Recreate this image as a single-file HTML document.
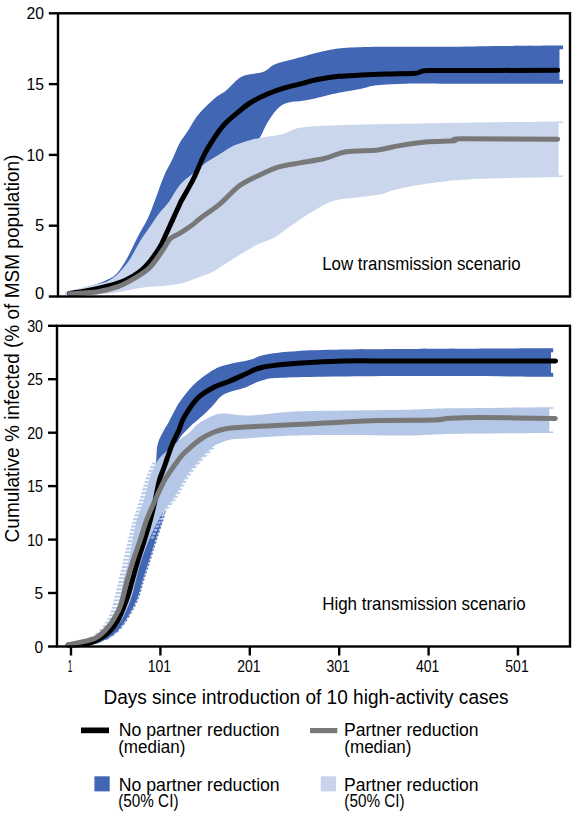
<!DOCTYPE html>
<html><head><meta charset="utf-8"><title>Chart</title>
<style>html,body{margin:0;padding:0;background:#fff;width:576px;height:816px;overflow:hidden}svg{display:block}text{font-family:"Liberation Sans",sans-serif}</style>
</head><body>
<svg width="576" height="816" viewBox="0 0 576 816">
<defs><pattern id="hatchL" width="20" height="3.7" patternUnits="userSpaceOnUse"><rect width="20" height="2" fill="#b4c7e6"/></pattern><pattern id="hatchD" width="20" height="3.7" patternUnits="userSpaceOnUse"><rect y="1.5" width="20" height="2" fill="#4166b3"/></pattern></defs>
<rect width="576" height="816" fill="#fff"/>
<path d="M65.5,293.0 C68.2,292.2 75.5,290.5 82.0,288.5 C88.5,286.5 98.8,283.5 104.6,281.0 C110.4,278.5 113.0,277.3 116.8,273.5 C120.6,269.7 123.7,264.1 127.2,258.0 C130.7,251.9 134.1,243.7 137.6,237.0 C141.1,230.3 145.1,224.2 148.0,218.0 C150.9,211.8 152.5,206.9 155.1,200.0 C157.7,193.1 160.9,183.2 163.8,176.4 C166.7,169.6 169.9,164.5 172.5,159.0 C175.1,153.5 176.8,148.2 179.4,143.4 C182.0,138.6 185.2,134.9 188.1,130.4 C191.0,125.9 193.9,120.4 196.8,116.5 C199.7,112.6 202.2,110.1 205.4,106.9 C208.6,103.7 212.5,100.1 216.0,97.3 C219.5,94.5 222.1,93.8 226.4,90.3 C230.7,86.8 235.9,79.5 242.0,76.5 C248.1,73.5 257.4,74.1 262.9,72.1 C268.4,70.1 269.8,66.5 275.0,64.3 C280.2,62.1 287.3,61.0 294.1,59.1 C300.9,57.2 310.1,54.5 316.0,53.0 C321.9,51.5 323.9,50.8 329.5,49.9 C335.1,49.0 340.9,48.1 349.9,47.6 C358.9,47.1 367.7,46.8 383.7,46.7 C399.7,46.6 426.6,46.9 446.0,46.8 C465.4,46.7 481.1,46.2 500.0,46.0 C518.9,45.8 549.6,45.6 559.5,45.5 L559.5,83.7 C540.6,83.7 471.5,83.7 446.0,83.7 C420.5,83.7 417.8,83.4 406.3,83.7 C394.8,84.0 384.5,84.5 377.0,85.3 C369.5,86.1 367.6,87.5 361.2,88.7 C354.8,90.0 346.1,91.2 338.6,92.8 C331.1,94.4 322.0,96.9 316.0,98.2 C310.0,99.5 307.3,100.1 302.8,100.8 C298.3,101.5 292.9,101.3 288.9,102.5 C284.8,103.7 282.0,104.5 278.5,107.7 C275.0,110.9 271.6,116.0 268.1,121.6 C264.6,127.1 262.4,134.6 257.7,141.0 C253.0,147.4 247.1,150.2 240.0,160.0 C232.9,169.8 224.2,185.8 215.0,200.0 C205.8,214.2 194.2,232.5 185.0,245.0 C175.8,257.5 169.2,268.0 160.0,275.0 C150.8,282.0 140.0,284.2 130.0,287.0 C120.0,289.8 110.8,290.8 100.0,292.0 C89.2,293.2 71.2,294.1 65.5,294.5 Z" fill="#4166b3"/>
<rect x="559" y="45.5" width="4" height="3.8" fill="#4166b3"/><rect x="559" y="79.9" width="4" height="3.8" fill="#4166b3"/>
<path d="M64.3,292.0 C69.9,290.7 90.4,285.8 97.7,284.0 C105.0,282.2 104.5,282.8 108.0,281.0 C111.5,279.2 115.0,276.7 118.5,273.3 C122.0,269.9 126.3,264.4 128.9,260.8 C131.5,257.2 131.8,255.7 134.0,252.0 C136.2,248.3 138.9,243.2 141.8,238.6 C144.7,234.0 148.6,228.8 151.5,224.5 C154.4,220.2 156.5,216.8 159.4,213.0 C162.3,209.2 165.8,206.1 169.2,201.4 C172.6,196.7 176.0,189.4 180.0,184.7 C184.0,180.0 189.1,176.6 193.3,173.0 C197.5,169.4 201.0,166.2 205.4,163.0 C209.8,159.8 215.2,156.9 220.0,154.0 C224.8,151.1 228.8,147.9 233.9,145.6 C239.0,143.3 246.4,141.2 250.6,140.0 C254.8,138.8 253.5,139.2 259.0,138.2 C264.5,137.1 276.6,135.5 283.7,133.7 C290.8,131.9 291.4,129.0 301.8,127.6 C312.2,126.1 318.7,125.8 346.0,125.0 C373.3,124.2 430.4,123.4 465.8,122.8 C501.2,122.2 543.0,121.6 558.5,121.4 L558.5,177.0 C543.9,177.4 492.7,178.1 471.0,179.2 C449.3,180.3 441.0,181.7 428.2,183.5 C415.4,185.3 401.9,188.1 394.1,189.9 C386.3,191.7 387.7,192.9 381.3,194.2 C374.9,195.5 363.5,196.5 355.6,197.6 C347.7,198.7 340.9,198.5 333.8,200.8 C326.6,203.1 319.8,207.2 312.9,211.2 C306.0,215.3 298.5,220.8 292.1,225.1 C285.7,229.4 280.5,234.1 274.7,237.3 C268.9,240.5 261.5,242.6 257.4,244.5 C253.3,246.4 253.4,246.7 250.0,248.7 C246.6,250.7 241.0,253.9 236.8,256.5 C232.6,259.1 228.8,261.7 224.7,264.3 C220.6,266.9 216.8,269.9 212.5,272.1 C208.2,274.3 203.2,275.6 198.6,277.3 C194.0,279.0 189.9,281.1 184.7,282.5 C179.5,283.9 173.2,284.8 167.4,285.5 C161.6,286.2 155.2,286.2 150.0,286.8 C144.8,287.4 143.0,287.7 136.0,288.8 C129.0,289.9 119.6,292.5 108.0,293.5 C96.4,294.5 73.3,294.8 66.4,295.0 Z" fill="#cad6ec"/>
<rect x="558" y="121.4" width="5" height="1.6" fill="#cad6ec"/><rect x="558" y="175.4" width="5" height="1.6" fill="#cad6ec"/>
<path d="M69.5,293.5 C72.5,293.1 80.8,292.1 87.2,290.8 C93.7,289.6 101.8,287.7 108.0,286.0 C114.2,284.3 119.5,282.8 124.8,280.5 C130.0,278.2 135.1,275.2 139.3,272.0 C143.5,268.8 146.3,265.8 149.8,261.5 C153.2,257.2 157.5,251.0 160.2,246.5 C162.9,242.0 163.7,239.2 165.8,234.7 C167.9,230.2 170.5,224.5 172.8,219.4 C175.1,214.3 178.2,207.4 179.7,204.2 C181.2,201.0 179.5,204.2 181.8,200.0 C184.1,195.8 189.7,186.4 193.4,179.0 C197.1,171.6 200.4,162.3 203.8,155.5 C207.2,148.7 210.7,143.4 214.1,138.2 C217.5,133.0 220.8,128.3 224.5,124.3 C228.2,120.2 231.6,117.5 236.0,113.9 C240.4,110.3 245.3,105.8 250.7,102.5 C256.1,99.2 262.3,96.3 268.1,93.8 C273.9,91.3 279.6,89.4 285.4,87.7 C291.2,86.0 297.7,84.7 302.8,83.4 C307.9,82.1 310.0,81.0 316.0,79.8 C322.0,78.6 331.1,77.1 338.6,76.3 C346.1,75.5 352.9,75.5 361.2,75.1 C369.5,74.7 379.2,74.3 388.2,74.0 C397.2,73.7 409.3,73.8 415.3,73.3 C421.3,72.8 419.3,71.2 424.4,70.8 C429.5,70.3 423.8,70.7 446.0,70.6 C468.2,70.5 539.1,70.3 557.7,70.2" fill="none" stroke="#000" stroke-width="5" stroke-linecap="round" stroke-linejoin="round"/>
<path d="M69.9,293.8 C74.5,293.4 89.6,292.9 97.7,291.7 C105.8,290.5 112.2,288.6 118.5,286.3 C124.8,284.0 130.0,280.9 135.2,277.8 C140.4,274.7 145.0,272.3 149.8,267.5 C154.5,262.7 160.1,253.8 163.5,249.0 C166.9,244.2 167.3,241.5 170.0,238.9 C172.7,236.3 176.0,235.6 179.7,233.3 C183.4,231.0 188.8,227.5 192.2,225.0 C195.6,222.5 195.4,222.0 200.0,218.5 C204.6,215.0 213.4,209.3 220.0,203.9 C226.6,198.5 232.7,190.7 239.4,185.8 C246.1,180.9 253.8,177.8 260.3,174.7 C266.8,171.6 271.7,169.1 278.3,167.1 C284.9,165.1 292.3,164.3 300.0,162.9 C307.7,161.5 316.7,160.3 324.4,158.5 C332.1,156.7 337.1,153.2 346.0,151.8 C354.9,150.4 369.4,150.9 378.0,149.9 C386.6,148.9 389.9,147.2 397.9,145.9 C405.9,144.6 416.6,142.8 425.9,142.0 C435.2,141.2 447.8,141.3 453.8,140.8 C459.8,140.3 444.5,139.1 461.8,138.8 C479.1,138.6 541.7,139.2 557.7,139.3" fill="none" stroke="#787878" stroke-width="5" stroke-linecap="round" stroke-linejoin="round"/>
<path d="M66.0,646.0 C70.1,645.9 83.1,647.0 90.7,645.5 C98.3,644.0 105.8,640.8 111.6,637.0 C117.4,633.2 121.0,629.2 125.4,623.0 C129.8,616.8 135.0,607.2 138.2,600.0 C141.3,592.8 142.2,586.7 144.3,580.0 C146.4,573.3 148.7,566.7 150.8,560.0 C152.9,553.3 154.9,546.7 157.0,540.0 C159.1,533.3 162.0,525.0 163.5,520.0 C165.0,515.0 165.6,511.7 166.0,510.0 L164.5,510.0 C164.1,511.7 163.5,515.0 162.0,520.0 C160.5,525.0 157.6,533.3 155.5,540.0 C153.4,546.7 151.4,553.3 149.3,560.0 C147.2,566.7 144.9,573.3 142.8,580.0 C140.7,586.7 139.8,592.8 136.7,600.0 C133.5,607.2 128.3,616.8 123.9,623.0 C119.5,629.2 115.9,633.2 110.1,637.0 C104.3,640.8 96.5,644.0 89.2,645.5 C81.9,647.0 69.9,645.9 66.0,646.0 Z" fill="url(#hatchD)"/>
<path d="M71.5,644.5 C75.7,643.3 90.2,640.4 96.5,637.5 C102.8,634.6 106.2,630.9 109.5,627.0 C112.8,623.1 114.1,618.5 116.0,614.0 C117.9,609.5 119.5,605.7 121.0,600.0 C122.5,594.3 123.5,586.7 125.0,580.0 C126.5,573.3 128.8,566.7 130.3,560.0 C131.8,553.3 132.7,546.7 134.0,540.0 C135.3,533.3 136.3,526.7 138.2,520.0 C140.1,513.3 143.4,506.7 145.5,500.0 C147.6,493.3 148.8,485.5 150.5,480.0 C152.2,474.5 154.3,472.8 155.5,467.0 C156.7,461.2 156.2,450.8 157.5,445.0 C158.8,439.2 161.1,435.9 163.0,432.0 C164.9,428.1 166.3,426.3 169.1,421.4 C171.8,416.4 175.4,408.4 179.5,402.3 C183.6,396.2 188.5,389.9 193.4,385.0 C198.3,380.1 204.1,376.0 209.0,372.8 C213.9,369.6 216.1,368.0 222.9,365.8 C229.7,363.6 243.4,361.6 250.0,359.8 C256.6,358.1 256.4,356.7 262.7,355.3 C269.0,353.9 276.6,352.6 287.7,351.7 C298.8,350.8 309.6,350.2 329.3,349.7 C349.0,349.2 369.1,349.1 406.0,348.9 C442.9,348.7 526.8,348.4 551.0,348.3 L551.0,376.8 C526.8,376.7 449.9,376.0 406.0,376.1 C362.1,376.2 311.6,376.8 287.7,377.5 C263.8,378.2 269.6,378.7 262.7,380.3 C255.8,381.9 252.4,384.9 246.0,387.2 C239.6,389.5 229.8,391.1 224.1,394.3 C218.4,397.5 215.5,403.0 212.0,406.5 C208.5,410.0 207.1,411.6 203.3,415.1 C199.5,418.6 193.5,423.2 189.4,427.3 C185.3,431.4 181.9,434.3 179.0,439.4 C176.1,444.5 173.8,452.1 172.0,458.0 C170.2,463.9 169.2,469.7 168.0,475.0 C166.8,480.3 165.8,485.0 165.0,490.0 C164.2,495.0 163.5,500.0 163.0,505.0 C162.5,510.0 163.2,514.2 162.0,520.0 C160.8,525.8 157.6,533.3 155.5,540.0 C153.4,546.7 151.4,553.3 149.3,560.0 C147.2,566.7 144.9,573.3 142.8,580.0 C140.7,586.7 139.8,592.8 136.7,600.0 C133.5,607.2 128.3,616.8 123.9,623.0 C119.5,629.2 115.9,633.2 110.1,637.0 C104.3,640.8 96.5,644.0 89.2,645.5 C81.9,647.0 69.9,645.9 66.0,646.0 Z" fill="#4166b3"/>
<rect x="550.5" y="348.3" width="2.7" height="4" fill="#4166b3"/><rect x="550.5" y="372.8" width="2.7" height="4" fill="#4166b3"/>
<path d="M66.0,644.5 C70.2,643.2 84.8,639.6 91.0,636.5 C97.2,633.4 99.9,629.8 103.0,626.0 C106.1,622.2 108.0,618.3 109.8,614.0 C111.6,609.7 112.4,605.7 113.9,600.0 C115.4,594.3 117.1,586.7 118.7,580.0 C120.3,573.3 121.9,566.7 123.4,560.0 C125.0,553.3 126.4,546.7 128.0,540.0 C129.6,533.3 131.1,526.7 133.0,520.0 C134.9,513.3 137.5,506.7 139.5,500.0 C141.5,493.3 143.3,485.8 145.2,480.0 C147.1,474.2 149.5,468.4 150.8,465.4 C152.1,462.4 152.6,462.6 153.0,462.0 L156.0,463.0 C155.8,463.4 155.3,464.7 155.0,465.4 C154.7,466.1 155.0,464.6 154.0,467.0 C153.0,469.4 150.7,474.5 149.0,480.0 C147.3,485.5 146.1,493.3 144.0,500.0 C141.9,506.7 138.6,513.3 136.7,520.0 C134.8,526.7 133.8,533.3 132.5,540.0 C131.2,546.7 130.3,553.3 128.8,560.0 C127.3,566.7 125.0,573.3 123.5,580.0 C122.0,586.7 121.0,594.3 119.5,600.0 C118.0,605.7 116.4,609.5 114.5,614.0 C112.6,618.5 111.2,623.1 108.0,627.0 C104.8,630.9 101.3,634.6 95.0,637.5 C88.7,640.4 74.2,643.3 70.0,644.5 Z" fill="url(#hatchL)"/>
<path d="M150.0,540.0 C151.1,537.5 154.3,529.7 156.5,525.0 C158.7,520.3 160.1,516.5 163.0,512.0 C165.9,507.5 170.1,503.8 173.9,498.0 C177.7,492.2 181.9,483.4 186.0,477.3 C190.1,471.2 193.9,466.6 198.2,461.7 C202.5,456.8 209.7,450.1 212.0,447.8 L215.0,447.8 C212.7,450.1 205.5,456.8 201.2,461.7 C196.9,466.6 193.1,471.2 189.0,477.3 C184.9,483.4 180.7,492.2 176.9,498.0 C173.1,503.8 168.9,507.5 166.0,512.0 C163.1,516.5 161.7,520.3 159.5,525.0 C157.3,529.7 154.1,537.5 153.0,540.0 Z" fill="url(#hatchL)"/>
<path d="M70.0,644.5 C74.2,643.3 88.7,640.4 95.0,637.5 C101.3,634.6 104.8,630.9 108.0,627.0 C111.2,623.1 112.6,618.5 114.5,614.0 C116.4,609.5 118.0,605.7 119.5,600.0 C121.0,594.3 122.0,586.7 123.5,580.0 C125.0,573.3 127.3,566.7 128.8,560.0 C130.3,553.3 131.2,546.7 132.5,540.0 C133.8,533.3 134.8,526.7 136.7,520.0 C138.6,513.3 141.9,506.7 144.0,500.0 C146.1,493.3 147.3,485.5 149.0,480.0 C150.7,474.5 153.0,469.4 154.0,467.0 C155.0,464.6 153.8,467.2 155.0,465.4 C156.2,463.6 157.3,460.2 161.3,456.0 C165.3,451.8 174.2,444.4 179.0,440.4 C183.8,436.4 186.8,434.8 190.0,432.0 C193.2,429.2 194.7,426.3 198.1,423.8 C201.5,421.3 206.1,418.6 210.2,416.9 C214.2,415.2 215.8,413.6 222.4,413.4 C229.0,413.2 238.7,415.8 250.0,415.5 C261.3,415.2 276.8,412.6 290.0,411.8 C303.2,411.0 310.0,411.1 329.3,410.8 C348.6,410.5 385.8,410.2 406.0,409.8 C426.2,409.4 426.4,408.7 450.3,408.3 C474.2,407.9 532.8,407.5 549.3,407.3 L549.3,433.0 C532.8,433.1 474.2,433.5 450.3,433.9 C426.4,434.3 426.2,435.3 406.0,435.5 C385.8,435.7 349.0,434.9 329.3,435.0 C309.6,435.1 301.6,435.2 287.7,435.8 C273.8,436.4 255.4,437.8 246.0,438.4 C236.6,439.0 235.6,438.5 231.1,439.4 C226.6,440.2 222.1,442.1 218.9,443.5 C215.7,444.9 215.4,444.8 212.0,447.8 C208.6,450.8 202.5,456.8 198.2,461.7 C193.9,466.6 190.1,471.2 186.0,477.3 C181.9,483.4 177.7,492.2 173.9,498.0 C170.1,503.8 166.0,507.5 163.0,512.0 C160.0,516.5 158.3,520.3 156.0,525.0 C153.7,529.7 151.4,534.2 149.0,540.0 C146.6,545.8 143.7,553.3 141.5,560.0 C139.3,566.7 137.8,573.3 136.0,580.0 C134.2,586.7 133.0,593.2 130.5,600.0 C128.0,606.8 124.8,615.1 121.0,621.0 C117.2,626.9 113.0,631.7 107.5,635.5 C102.0,639.3 94.2,642.3 88.0,644.0 C81.8,645.7 73.0,645.2 70.0,645.5 Z" fill="#b4c7e6"/>
<rect x="549" y="407.3" width="4.2" height="1.5" fill="#b4c7e6"/><rect x="549" y="431.5" width="4.2" height="1.5" fill="#b4c7e6"/>
<path d="M68.0,645.0 C71.3,644.8 81.7,645.0 87.8,643.5 C93.9,642.0 99.5,639.4 104.4,635.8 C109.3,632.2 113.3,628.0 117.0,622.0 C120.7,616.0 123.9,607.0 126.5,600.0 C129.1,593.0 130.5,586.7 132.4,580.0 C134.3,573.3 136.1,566.7 138.1,560.0 C140.1,553.3 142.5,546.7 144.5,540.0 C146.5,533.3 148.5,526.7 150.3,520.0 C152.1,513.3 153.7,506.7 155.2,500.0 C156.7,493.3 158.0,485.6 159.5,480.0 C161.0,474.4 162.4,472.2 164.4,466.5 C166.4,460.8 169.3,451.7 171.7,445.6 C174.1,439.5 176.9,434.8 179.0,430.0 C181.1,425.2 181.0,422.4 184.2,417.0 C187.4,411.6 192.9,402.9 198.1,397.8 C203.3,392.7 210.2,389.2 215.4,386.5 C220.6,383.8 224.2,383.4 229.3,381.3 C234.4,379.2 240.4,376.2 246.0,373.8 C251.6,371.4 253.4,369.0 262.7,367.2 C272.0,365.4 288.2,364.1 301.6,363.1 C315.0,362.1 325.8,361.4 343.2,361.0 C360.6,360.6 370.6,361.0 406.0,361.0 C441.4,361.0 530.7,361.1 555.6,361.1" fill="none" stroke="#000" stroke-width="5" stroke-linecap="round" stroke-linejoin="round"/>
<path d="M68.2,644.6 C72.6,643.6 88.0,641.5 94.7,638.5 C101.4,635.5 104.7,631.1 108.6,626.5 C112.5,621.9 116.0,615.2 118.3,610.8 C120.6,606.4 120.7,605.1 122.2,600.0 C123.7,594.9 125.3,586.7 127.2,580.0 C129.1,573.3 131.1,566.7 133.3,560.0 C135.5,553.3 138.0,546.7 140.2,540.0 C142.4,533.3 144.1,526.7 146.6,520.0 C149.1,513.3 152.2,506.7 155.2,500.0 C158.2,493.3 161.1,486.3 164.7,480.0 C168.3,473.7 173.6,466.5 176.9,462.0 C180.2,457.5 180.5,456.7 184.3,453.0 C188.2,449.3 195.2,443.0 200.0,439.6 C204.8,436.2 208.7,434.3 213.0,432.5 C217.3,430.7 220.5,429.6 226.0,428.7 C231.5,427.8 235.3,427.6 246.0,427.0 C256.7,426.4 276.0,425.5 290.0,424.8 C304.0,424.1 315.3,423.5 329.9,422.8 C344.5,422.1 360.5,421.0 377.8,420.5 C395.1,420.0 421.7,420.4 433.7,420.0 C445.7,419.6 442.0,418.6 449.7,418.2 C457.4,417.8 462.4,417.6 480.0,417.6 C497.6,417.6 542.8,418.3 555.3,418.4" fill="none" stroke="#787878" stroke-width="5" stroke-linecap="round" stroke-linejoin="round"/>
<g fill="none" stroke="#000" stroke-width="2.4">
<rect x="58" y="13.3" width="512" height="283.2"/>
<rect x="57" y="325.8" width="513" height="320.7"/>
<line x1="48.8" y1="296.5" x2="58" y2="296.5"/>
<line x1="48.8" y1="225.7" x2="58" y2="225.7"/>
<line x1="48.8" y1="154.9" x2="58" y2="154.9"/>
<line x1="48.8" y1="84.1" x2="58" y2="84.1"/>
<line x1="48.8" y1="13.3" x2="58" y2="13.3"/>
<line x1="48" y1="646.5" x2="57" y2="646.5"/>
<line x1="48" y1="593.0" x2="57" y2="593.0"/>
<line x1="48" y1="539.6" x2="57" y2="539.6"/>
<line x1="48" y1="486.1" x2="57" y2="486.1"/>
<line x1="48" y1="432.7" x2="57" y2="432.7"/>
<line x1="48" y1="379.2" x2="57" y2="379.2"/>
<line x1="48" y1="325.8" x2="57" y2="325.8"/>
<line x1="71.0" y1="646.5" x2="71.0" y2="655.5"/>
<line x1="160.4" y1="646.5" x2="160.4" y2="655.5"/>
<line x1="249.8" y1="646.5" x2="249.8" y2="655.5"/>
<line x1="339.2" y1="646.5" x2="339.2" y2="655.5"/>
<line x1="428.6" y1="646.5" x2="428.6" y2="655.5"/>
<line x1="518.0" y1="646.5" x2="518.0" y2="655.5"/>
</g>
<g fill="#000">
<text x="44.1" y="298.6" font-size="17.4" text-anchor="end" textLength="9.2" lengthAdjust="spacingAndGlyphs">0</text>
<text x="44.1" y="231.3" font-size="17.4" text-anchor="end" textLength="9.2" lengthAdjust="spacingAndGlyphs">5</text>
<text x="44.1" y="160.5" font-size="17.4" text-anchor="end" textLength="17.5" lengthAdjust="spacingAndGlyphs">10</text>
<text x="44.1" y="89.7" font-size="17.4" text-anchor="end" textLength="17.5" lengthAdjust="spacingAndGlyphs">15</text>
<text x="44.1" y="18.9" font-size="17.4" text-anchor="end" textLength="17.5" lengthAdjust="spacingAndGlyphs">20</text>
<text x="43" y="652.6" font-size="17.4" text-anchor="end" textLength="8.6" lengthAdjust="spacingAndGlyphs">0</text>
<text x="43" y="599.1" font-size="17.4" text-anchor="end" textLength="8.6" lengthAdjust="spacingAndGlyphs">5</text>
<text x="43" y="545.7" font-size="17.4" text-anchor="end" textLength="15.8" lengthAdjust="spacingAndGlyphs">10</text>
<text x="43" y="492.2" font-size="17.4" text-anchor="end" textLength="15.8" lengthAdjust="spacingAndGlyphs">15</text>
<text x="43" y="438.8" font-size="17.4" text-anchor="end" textLength="15.8" lengthAdjust="spacingAndGlyphs">20</text>
<text x="43" y="385.4" font-size="17.4" text-anchor="end" textLength="15.8" lengthAdjust="spacingAndGlyphs">25</text>
<text x="43" y="331.9" font-size="17.4" text-anchor="end" textLength="15.8" lengthAdjust="spacingAndGlyphs">30</text>
<text x="70.0" y="672" font-size="17.4" text-anchor="middle" textLength="4.6" lengthAdjust="spacingAndGlyphs">1</text>
<text x="159.4" y="672" font-size="17.4" text-anchor="middle" textLength="23.3" lengthAdjust="spacingAndGlyphs">101</text>
<text x="248.8" y="672" font-size="17.4" text-anchor="middle" textLength="23.3" lengthAdjust="spacingAndGlyphs">201</text>
<text x="338.2" y="672" font-size="17.4" text-anchor="middle" textLength="23.3" lengthAdjust="spacingAndGlyphs">301</text>
<text x="427.6" y="672" font-size="17.4" text-anchor="middle" textLength="23.3" lengthAdjust="spacingAndGlyphs">401</text>
<text x="517.0" y="672" font-size="17.4" text-anchor="middle" textLength="23.3" lengthAdjust="spacingAndGlyphs">501</text>
<text x="103.4" y="703.8" font-size="20" text-anchor="start" textLength="405.2" lengthAdjust="spacingAndGlyphs">Days since introduction of 10 high-activity cases</text>
<g transform="translate(19.1,542.4) rotate(-90)"><text x="0" y="0" font-size="20" text-anchor="start" textLength="387.8" lengthAdjust="spacingAndGlyphs">Cumulative % infected (% of MSM population)</text></g>
<text x="322.2" y="269.6" font-size="18.2" text-anchor="start" textLength="198.4" lengthAdjust="spacingAndGlyphs">Low transmission scenario</text>
<text x="322.2" y="609.8" font-size="18.2" text-anchor="start" textLength="203.4" lengthAdjust="spacingAndGlyphs">High transmission scenario</text>
<rect x="81" y="727.5" width="28" height="5.7" fill="#000"/>
<rect x="310" y="728" width="27.3" height="5.2" fill="#787878"/>
<rect x="94.4" y="776.3" width="15.3" height="15.1" fill="#4166b3"/>
<rect x="320.8" y="776.3" width="15.3" height="15.1" fill="#c8d4ec"/>
<text x="118.8" y="735.7" font-size="17.5" text-anchor="start" textLength="160.9" lengthAdjust="spacingAndGlyphs">No partner reduction</text>
<text x="118.2" y="752.6" font-size="17.5" text-anchor="start" textLength="67.2" lengthAdjust="spacingAndGlyphs">(median)</text>
<text x="344" y="735.7" font-size="17.5" text-anchor="start" textLength="134.6" lengthAdjust="spacingAndGlyphs">Partner reduction</text>
<text x="344.3" y="752.6" font-size="17.5" text-anchor="start" textLength="67.2" lengthAdjust="spacingAndGlyphs">(median)</text>
<text x="118.8" y="790.5" font-size="17.5" text-anchor="start" textLength="160.9" lengthAdjust="spacingAndGlyphs">No partner reduction</text>
<text x="118.2" y="807.2" font-size="17.5" text-anchor="start" textLength="60.3" lengthAdjust="spacingAndGlyphs">(50% CI)</text>
<text x="344" y="790.5" font-size="17.5" text-anchor="start" textLength="134.6" lengthAdjust="spacingAndGlyphs">Partner reduction</text>
<text x="344.3" y="807.2" font-size="17.5" text-anchor="start" textLength="60.3" lengthAdjust="spacingAndGlyphs">(50% CI)</text>
</g>
</svg>
</body></html>
